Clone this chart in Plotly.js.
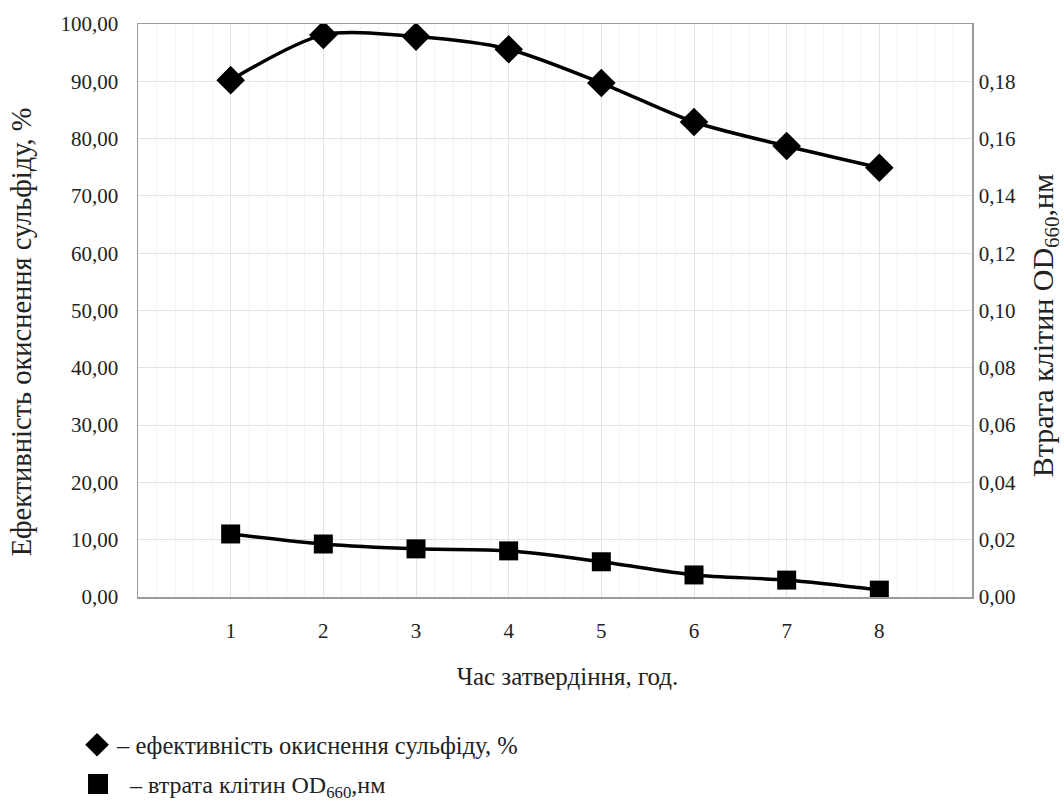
<!DOCTYPE html>
<html>
<head>
<meta charset="utf-8">
<script src="https://cdn.plot.ly/plotly-3.0.1.min.js"></script>
<style>html,body{margin:0;padding:0;background:#fff;}#chart{width:1064px;height:805px;}</style>
</head>
<body>
<div id="chart"></div>
<script>
const hours = [1, 2, 3, 4, 5, 6, 7, 8];
const oxidationEff = [90.2, 98.1, 97.8, 95.6, 89.7, 82.9, 78.7, 74.9];
const cellLoss = [0.0220, 0.0185, 0.0168, 0.0161, 0.0123, 0.0077, 0.0059, 0.0024];
const leftTicks = [0, 10, 20, 30, 40, 50, 60, 70, 80, 90, 100];
const rightTicks = [0, 0.02, 0.04, 0.06, 0.08, 0.10, 0.12, 0.14, 0.16, 0.18];
const xTitle = 'Час затвердіння, год.';
const yTitle = 'Ефективність окиснення сульфіду, %';
const y2Title = 'Втрата клітин OD<sub>660</sub>,нм';
const legend1Text = '– ефективність окиснення сульфіду, %';
const legend2Text = '– втрата клітин OD<sub>660</sub>,нм';

// invisible padding used only to nudge title text off-centre
const pad = n => '<span style="color:rgba(0,0,0,0)">' + 'x'.repeat(n) + '</span>';
const NB = '\u00a0';
const FONT = '"Liberation Serif", "DejaVu Serif", serif';
const BLACK = '#000';
const TXT = '#222';

const traces = [
  {x: hours, y: oxidationEff, yaxis: 'y', mode: 'lines+markers', showlegend: false,
   line: {color: BLACK, width: 3.5, shape: 'spline', smoothing: 0.8},
   marker: {symbol: 'diamond', size: 22, color: BLACK}},
  {x: hours, y: cellLoss, yaxis: 'y2', mode: 'lines+markers', showlegend: false,
   line: {color: BLACK, width: 3.5, shape: 'spline', smoothing: 0.8},
   marker: {symbol: 'square', size: 19, color: BLACK}},
  {x: [null], y: [null], mode: 'markers', name: legend1Text, legend: 'legend',
   marker: {symbol: 'diamond', size: 16, color: BLACK, line: {color: BLACK, width: 2}}},
  {x: [null], y: [null], mode: 'markers', name: NB + NB + legend2Text, legend: 'legend2',
   marker: {symbol: 'square', size: 16, color: BLACK, line: {color: BLACK, width: 4}}}
];

const layout = {
  width: 1064, height: 805,
  margin: {l: 138, r: 92, t: 24, b: 208, autoexpand: false},
  paper_bgcolor: '#fff', plot_bgcolor: '#fff',
  separators: ', ',
  font: {family: FONT, size: 21, color: TXT},
  xaxis: {
    range: [0, 9], tickvals: hours, ticktext: hours.map(String),
    showgrid: true, gridcolor: '#e4e4e4', gridwidth: 1,
    minor: {dtick: 0.2, showgrid: true, gridcolor: '#f3f3f3', gridwidth: 1},
    showline: true, linecolor: '#9a9a9a', linewidth: 1.5, mirror: true,
    ticks: '', ticklabelstandoff: 14, zeroline: false, automargin: false,
    tickfont: {family: FONT, size: 21, color: TXT},
    title: {text: pad(2) + xTitle, standoff: 26, font: {family: FONT, size: 25, color: TXT}}
  },
  yaxis: {
    range: [0, 100], tickvals: leftTicks, tickformat: '.2f',
    showgrid: true, gridcolor: '#e2e2e2', gridwidth: 1,
    showline: true, linecolor: '#9a9a9a', linewidth: 1.5,
    ticks: '', ticklabelstandoff: 14, zeroline: false, automargin: false,
    tickfont: {family: FONT, size: 21, color: TXT},
    title: {text: yTitle + pad(3), standoff: 20, font: {family: FONT, size: 28.5, color: TXT}}
  },
  yaxis2: {
    overlaying: 'y', side: 'right',
    range: [0, 0.2], tickvals: rightTicks, tickformat: '.2f',
    showgrid: false, showline: true, linecolor: '#9a9a9a', linewidth: 1.5,
    ticks: '', ticklabelstandoff: 1, zeroline: false, automargin: false,
    tickfont: {family: FONT, size: 21, color: TXT},
    title: {text: y2Title + pad(2), standoff: 28, font: {family: FONT, size: 30, color: TXT}}
  },
  legend: {
    x: -0.0731, y: -0.258, xanchor: 'left', yanchor: 'middle',
    bgcolor: 'rgba(0,0,0,0)', borderwidth: 0, itemwidth: 30,
    font: {family: FONT, size: 24.5, color: TXT}
  },
  legend2: {
    x: -0.0719, y: -0.327, xanchor: 'left', yanchor: 'middle',
    bgcolor: 'rgba(0,0,0,0)', borderwidth: 0, itemwidth: 30,
    font: {family: FONT, size: 24, color: TXT}
  }
};

Plotly.newPlot('chart', traces, layout, {displayModeBar: false, staticPlot: true});
</script>
</body>
</html>
